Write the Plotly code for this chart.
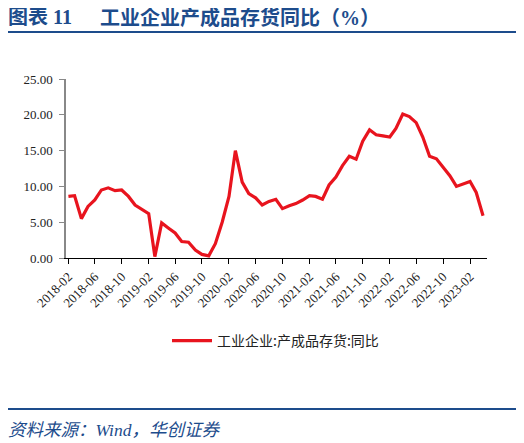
import pandas as pd
import plotly.graph_objects as go

# 工业企业:产成品存货:同比 (%), monthly from 2018-02
inventory_yoy = [
    8.6, 8.7, 5.5, 7.2, 8.1, 9.5, 9.8, 9.4, 9.5, 8.6, 7.4,
    6.8, 6.2, 0.2, 4.9, 4.2, 3.5, 2.3, 2.2, 1.1, 0.5, 0.3, 2.0,
    5.0, 8.6, 15.0, 10.6, 9.0, 8.4, 7.4, 7.9, 8.2, 6.9, 7.3, 7.6,
    8.1, 8.7, 8.6, 8.2, 10.2, 11.3, 12.9, 14.2, 13.8, 16.3, 17.9, 17.2,
    17.05, 16.9, 18.1, 20.1, 19.75, 18.9, 16.9, 14.2, 13.85, 12.7, 11.5, 10.0,
    10.4, 10.7, 9.15, 5.9,
]
months = pd.date_range("2018-02-01", periods=len(inventory_yoy), freq="MS")

series_name = "工业企业:产成品存货:同比"
title_label = "图表\u00a011"
title_text = "工业企业产成品存货同比（%）"
source_text = "资料来源：Wind，华创证券"

BLUE = "#1d4c8c"
RED = "#e8141e"
FONT = "Liberation Serif, Noto Sans CJK SC, serif"

# the page body has an 8px margin, so work in window pixels minus 8
OFF = 8
W, H = 524 - OFF, 443 - OFF
L, R, T, B = 66 - OFF, 487 - OFF, 79 - OFF, 258 - OFF


def px_x(x):
    return (x - OFF - L) / (R - L)


def px_y(y):
    return (B - (y - OFF)) / (B - T)


fig = go.Figure()
fig.add_trace(go.Scatter(
    x=months, y=inventory_yoy, mode="lines", name=series_name,
    line=dict(color=RED, width=3.2),
))

fig.update_layout(
    width=W, height=H,
    margin=dict(l=L, r=W - R, t=T, b=H - B),
    paper_bgcolor="white", plot_bgcolor="white",
    font=dict(family=FONT, size=12, color="black"),
    showlegend=True,
    legend=dict(
        orientation="h", x=px_x(167), y=px_y(341), xanchor="left", yanchor="middle",
        itemwidth=40,
        font=dict(family="Noto Sans CJK SC", size=14, color="#222"),
        bgcolor="rgba(0,0,0,0)",
    ),
)

fig.update_xaxes(
    type="date", range=["2018-01-21", "2023-04-19"],
    tick0="2018-02-01", dtick="M4", tickformat="%Y-%m",
    tickangle=-45, ticks="outside", ticklen=5, tickcolor="black",
    showline=True, linecolor="black", linewidth=1,
    showgrid=False, zeroline=False,
    tickfont=dict(family="Liberation Serif", size=13, color="#222"),
)
fig.update_yaxes(
    range=[0, 25], dtick=5, tickformat=".2f",
    ticks="outside", ticklen=5, tickcolor="#888", ticklabelstandoff=4,
    showline=True, linecolor="#888", linewidth=1.5,
    showgrid=False, zeroline=False,
    tickfont=dict(family="Liberation Serif", size=13, color="#222"),
)

fig.add_annotation(
    text="<b>" + title_label + "</b>", xref="paper", yref="paper",
    x=px_x(6), y=px_y(17), xanchor="left", yanchor="middle", showarrow=False,
    font=dict(family=FONT, size=20, color=BLUE),
)
fig.add_annotation(
    text="<b>" + title_text + "</b>", xref="paper", yref="paper",
    x=px_x(98), y=px_y(17), xanchor="left", yanchor="middle", showarrow=False,
    font=dict(family=FONT, size=20, color=BLUE),
)
fig.add_annotation(
    text="<i>" + source_text + "</i>", xref="paper", yref="paper",
    x=px_x(6), y=px_y(430), xanchor="left", yanchor="middle", showarrow=False,
    font=dict(family=FONT, size=17.5, color=BLUE),
)
fig.add_shape(type="line", xref="paper", yref="paper",
              x0=px_x(5), x1=px_x(517), y0=px_y(32), y1=px_y(32),
              line=dict(color=BLUE, width=2))
fig.add_shape(type="line", xref="paper", yref="paper",
              x0=px_x(5), x1=px_x(517), y0=px_y(409), y1=px_y(409),
              line=dict(color=BLUE, width=2))

fig.write_html("out.html")
